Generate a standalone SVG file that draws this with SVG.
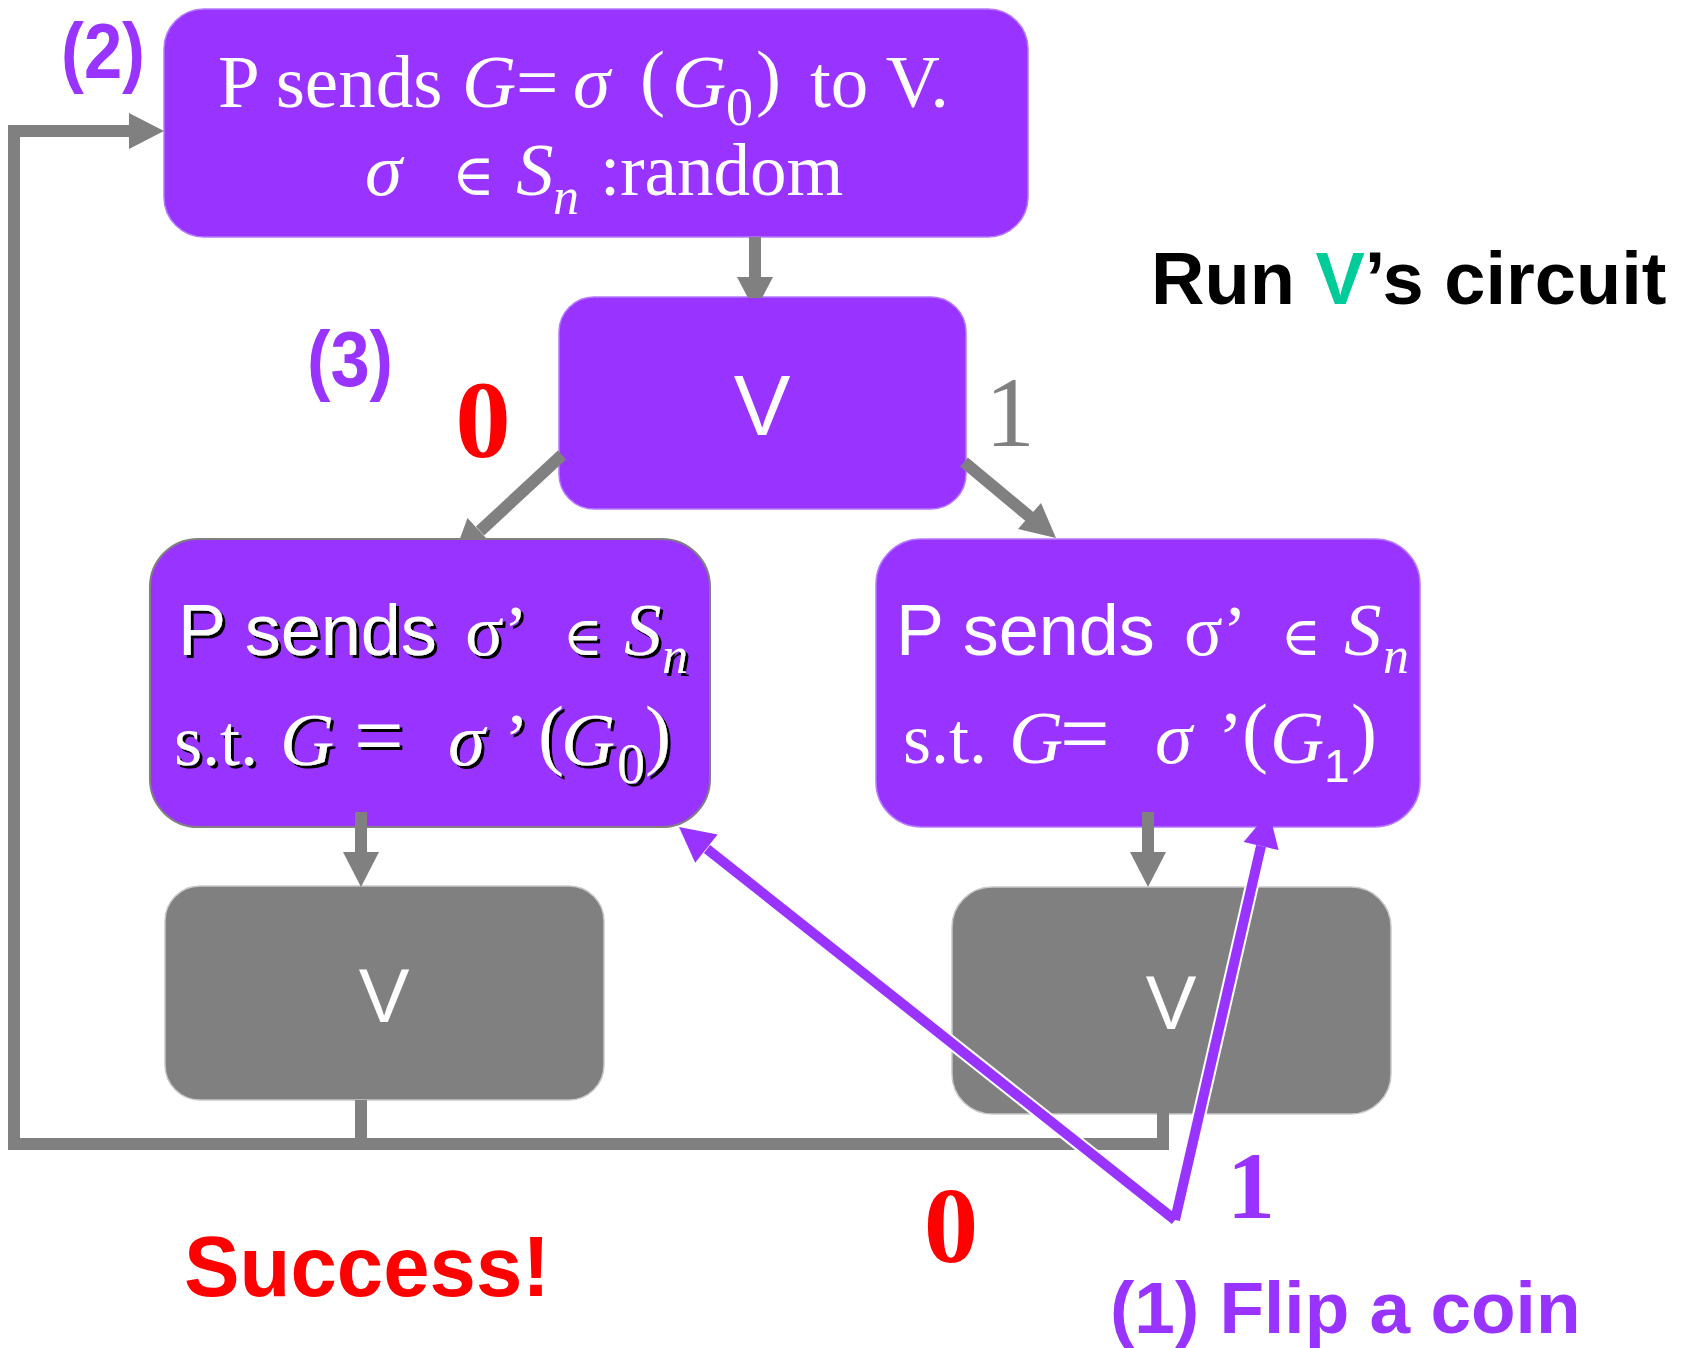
<svg xmlns="http://www.w3.org/2000/svg" width="1691" height="1348" viewBox="0 0 1691 1348">
  <style>
    .box-p { fill: #9933ff; stroke: #b57aff; stroke-width: 1.5; }
    .box-g { fill: #808080; stroke: #c8c8c8; stroke-width: 1.5; }
    .serif { font-family: "Liberation Serif", "Times New Roman", serif; }
    .sans { font-family: "Liberation Sans", Arial, sans-serif; }
    .elem { font-family: "DejaVu Serif", "Liberation Serif", serif; }
    .it { font-style: italic; }
    .w { fill: #ffffff; }
    .bold { font-weight: bold; }
    .purple { fill: #9933ff; }
    .red { fill: #ff0000; }
    .gtxt { fill: #808080; }
    .wire { fill: none; stroke: #808080; stroke-width: 12; }
    .head { fill: #808080; }
    .pwire-bg { fill: none; stroke: #ffffff; stroke-width: 14; }
    .pwire { fill: none; stroke: #9933ff; stroke-width: 10; }
    .phead { fill: #9933ff; }
  </style>
  <defs>
    <filter id="hardShadow" x="-5%" y="-5%" width="110%" height="120%">
      <feDropShadow dx="3" dy="3" stdDeviation="0" flood-color="#000000" flood-opacity="1"/>
    </filter>
  </defs>

  <rect width="1691" height="1348" fill="#ffffff"/>

  <!-- Step (2): prover commits to G -->
  <g id="node-commit">
    <rect class="box-p" x="164" y="9" width="864" height="228" rx="40" ry="40"/>
    <g class="serif w" font-size="75">
      <text x="218" y="107">P sends</text>
      <text x="462" y="107" class="it">G</text>
      <text x="516" y="107">=</text>
      <text x="573" y="107" class="it">σ</text>
      <text x="640" y="102">(</text>
      <text x="672" y="107" class="it">G</text>
      <text x="726" y="125" font-size="54">0</text>
      <text x="756" y="102">)</text>
      <text x="810" y="107">to V.</text>
      <text x="365" y="195" class="it">σ</text>
      <text x="452" y="195" class="elem" font-size="58">∈</text>
      <text x="516" y="195" class="it">S</text>
      <text x="553" y="214" class="it" font-size="52">n</text>
      <text x="600" y="195" font-size="73">:random</text>
    </g>
  </g>

  <!-- Step (3): verifier's challenge -->
  <g id="node-verifier">
    <rect class="box-p" x="559" y="297" width="407" height="212" rx="35" ry="35"/>
    <text class="sans w" x="762" y="435" font-size="85" text-anchor="middle">V</text>
  </g>

  <!-- Response for challenge 0 -->
  <g id="node-response0">
    <rect x="150" y="539" width="560" height="288" rx="48" ry="48" fill="#9933ff" stroke="#808080" stroke-width="2"/>
    <g class="w" filter="url(#hardShadow)">
      <text class="sans" x="178" y="655" font-size="72">P sends</text>
      <text class="serif" x="465" y="655" font-size="72">σ’</text>
      <text class="elem" x="563" y="655" font-size="54">∈</text>
      <text class="serif it" x="624" y="655" font-size="75">S</text>
      <text class="serif it" x="662" y="673" font-size="52">n</text>
      <text class="serif" x="174" y="765" font-size="72">s.t.</text>
      <text class="serif it" x="280" y="765" font-size="75">G</text>
      <text class="serif" x="354" y="765" font-size="88">=</text>
      <text class="serif it" x="448" y="765" font-size="75">σ</text>
      <text class="serif" x="504" y="765" font-size="75">’</text>
      <text class="serif" x="538" y="760" font-size="78">(</text>
      <text class="serif it" x="561" y="765" font-size="75">G</text>
      <text class="serif" x="617" y="783" font-size="56">0</text>
      <text class="serif" x="645" y="760" font-size="78">)</text>
    </g>
  </g>

  <!-- Response for challenge 1 -->
  <g id="node-response1">
    <rect class="box-p" x="876" y="539" width="544" height="288" rx="45" ry="45"/>
    <g class="w">
      <text class="sans" x="896" y="655" font-size="72">P sends</text>
      <text class="serif" x="1184" y="655" font-size="72">σ’</text>
      <text class="elem" x="1281" y="655" font-size="54">∈</text>
      <text class="serif it" x="1344" y="655" font-size="75">S</text>
      <text class="serif it" x="1383" y="673" font-size="52">n</text>
      <text class="serif" x="903" y="763" font-size="72">s.t.</text>
      <text class="serif it" x="1009" y="763" font-size="75">G</text>
      <text class="serif" x="1060" y="763" font-size="88">=</text>
      <text class="serif it" x="1155" y="763" font-size="75">σ</text>
      <text class="serif" x="1218" y="763" font-size="75">’</text>
      <text class="serif" x="1242" y="758" font-size="78">(</text>
      <text class="serif it" x="1270" y="763" font-size="75">G</text>
      <text class="sans" x="1324" y="782" font-size="46">1</text>
      <text class="serif" x="1351" y="758" font-size="78">)</text>
    </g>
  </g>

  <!-- Verifier checks, branch 0 -->
  <g id="node-check0">
    <rect class="box-g" x="165" y="886" width="439" height="214" rx="35" ry="35"/>
    <text class="sans w" x="384" y="1022" font-size="76" text-anchor="middle">V</text>
  </g>

  <!-- Verifier checks, branch 1 -->
  <g id="node-check1">
    <rect class="box-g" x="952" y="887" width="439" height="227" rx="40" ry="40"/>
    <text class="sans w" x="1171" y="1029" font-size="76" text-anchor="middle">V</text>
  </g>

  <!-- Connectors -->
  <g id="connectors">
    <!-- commit -> verifier -->
    <rect class="head" x="749" y="237" width="12" height="41"/>
    <polygon class="head" points="737,277 773,277 762,298 748,298"/>

    <!-- verifier -> response 0 (head tucked under the box) -->
    <line class="wire" x1="562" y1="455" x2="480" y2="531"/>
    <polygon class="head" points="467.5,518 459.8,539 486.9,539"/>

    <!-- verifier -> response 1 -->
    <line class="wire" x1="964" y1="462" x2="1030" y2="517"/>
    <polygon class="head" points="1041,503 1018,529 1056,538"/>

    <!-- responses -> checks -->
    <rect class="head" x="355" y="812" width="12" height="41"/>
    <polygon class="head" points="343,852 379,852 361,887"/>
    <rect class="head" x="1142" y="812" width="12" height="41"/>
    <polygon class="head" points="1130,852 1166,852 1148,887"/>

    <!-- loop back to the start -->
    <polyline class="wire" points="361,1100 361,1144"/>
    <polyline class="wire" points="1163,1113 1163,1144 14,1144 14,131 130,131" stroke-linejoin="miter"/>
    <polygon class="head" points="129,113 129,149 164,131"/>

    <!-- coin flip pointers -->
    <line class="pwire-bg" x1="1175" y1="1220" x2="707" y2="849"/>
    <line class="pwire-bg" x1="1175" y1="1220" x2="1261" y2="846"/>
    <line class="pwire" x1="1175" y1="1220" x2="707" y2="849"/>
    <line class="pwire" x1="1175" y1="1220" x2="1261" y2="846"/>
    <polygon class="phead" points="679,827 717.6,834.6 695.2,862.8"/>
    <polygon class="phead" points="1269,812 1278.6,850.1 1243.6,842.1"/>
  </g>

  <!-- Labels -->
  <g id="labels">
    <text class="sans bold purple" x="103" y="78" font-size="78" text-anchor="middle" textLength="84" lengthAdjust="spacingAndGlyphs">(2)</text>
    <text class="sans bold purple" x="350" y="386" font-size="78" text-anchor="middle" textLength="86" lengthAdjust="spacingAndGlyphs">(3)</text>
    <text class="serif bold red" x="483" y="457" font-size="111" text-anchor="middle">0</text>
    <text class="serif gtxt" x="1010" y="446" font-size="99" text-anchor="middle">1</text>
    <text class="serif bold red" x="951" y="1262" font-size="109" text-anchor="middle">0</text>
    <text class="serif bold purple" x="1251" y="1218" font-size="96" text-anchor="middle">1</text>
    <text class="sans bold red" x="184" y="1296" font-size="86" textLength="366" lengthAdjust="spacingAndGlyphs">Success!</text>
    <text class="sans bold purple" x="1110" y="1333" font-size="73">(1) Flip a coin</text>
    <text class="sans bold" x="1151" y="304" font-size="74" fill="#000000">Run <tspan fill="#00cc99">V</tspan>’s circuit</text>
  </g>
</svg>
